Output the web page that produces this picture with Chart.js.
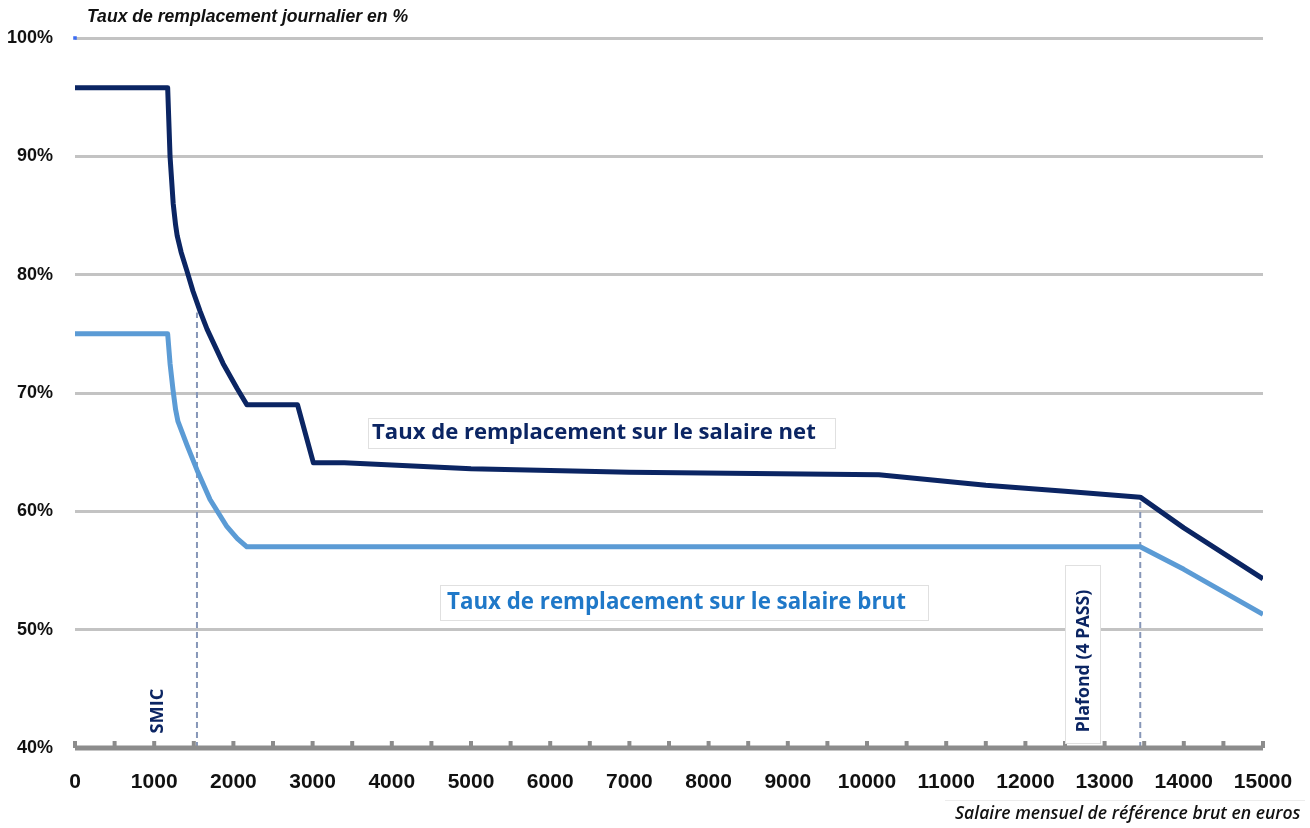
<!DOCTYPE html>
<html>
<head>
<meta charset="utf-8">
<script src="https://cdn.jsdelivr.net/npm/chart.js@4/dist/chart.umd.min.js"></script>
<style>
  html, body { margin: 0; padding: 0; background: #fff; }
  #wrap { width: 1310px; height: 828px; }
</style>
</head>
<body>
<div id="wrap"><canvas id="chart" width="1310" height="828"></canvas></div>
<script>
// Salaire mensuel brut (euros) et taux de remplacement (%)
const netSalaire = [0, 1170, 1200, 1240, 1270, 1290, 1340, 1414, 1490, 1580, 1667, 1869, 2045, 2170, 2810, 3010, 3400, 5000, 7000, 10150, 11500, 12500, 13450, 14000, 15000];
const netTaux    = [95.8, 95.8, 90.0, 86.0, 84.2, 83.3, 81.9, 80.3, 78.6, 76.9, 75.4, 72.5, 70.4, 69.0, 69.0, 64.1, 64.1, 63.6, 63.3, 63.1, 62.2, 61.7, 61.2, 58.6, 54.3];

const brutSalaire = [0, 1170, 1200, 1237, 1270, 1300, 1414, 1540, 1705, 1919, 2050, 2170, 13450, 14000, 15000];
const brutTaux    = [75.0, 75.0, 72.5, 70.3, 68.6, 67.6, 65.6, 63.5, 61.0, 58.7, 57.7, 57.0, 57.0, 55.1, 51.3];

// Repères verticaux
const smic = 1540;
const smicTaux = 76.8;
const plafond = 13450;
const plafondTaux = 61.2;

const yTicks = [40, 50, 60, 70, 80, 90, 100];
const xMin = 0, xMax = 15000, xStep = 500;

const NAVY = '#0b2563';
const BLUE = '#5b9bd5';
const LABEL_BLUE = '#1f78c8';

function pts(xs, ys) {
  return xs.map((x, i) => ({ x: x, y: ys[i] }));
}

// taille de police pour qu'un texte occupe une largeur donnee
function fitFont(ctx, text, style, family, width) {
  ctx.font = style + ' 20px ' + family;
  const size = 20 * width / ctx.measureText(text).width;
  return style + ' ' + size.toFixed(1) + 'px ' + family;
}

// Axe horizontal epais avec petites graduations vers le haut
const axisPlugin = {
  id: 'axisLine',
  afterDatasetsDraw(chart) {
    const { ctx, chartArea, scales } = chart;
    const xs = scales.x;
    const y0 = chartArea.bottom;
    ctx.save();
    ctx.strokeStyle = '#8c8c8c';
    ctx.lineWidth = 4;
    xs.ticks.forEach(t => {
      const px = xs.getPixelForValue(t.value);
      ctx.beginPath();
      ctx.moveTo(px, y0);
      ctx.lineTo(px, y0 - 7);
      ctx.stroke();
    });
    ctx.lineWidth = 5;
    ctx.beginPath();
    ctx.moveTo(chartArea.left, y0);
    ctx.lineTo(chartArea.right, y0);
    ctx.stroke();
    ctx.restore();
  }
};

function drawBox(ctx, x, y, w, h) {
  ctx.save();
  ctx.fillStyle = '#fff';
  ctx.strokeStyle = '#e0e0e0';
  ctx.lineWidth = 1;
  ctx.fillRect(x, y, w, h);
  ctx.strokeRect(x + 0.5, y + 0.5, w, h);
  ctx.restore();
}

function drawText(ctx, text, x, y, font, color, rotate) {
  ctx.save();
  ctx.font = font;
  ctx.translate(x, y);
  if (rotate) ctx.rotate(-Math.PI / 2);
  ctx.fillStyle = color;
  ctx.textBaseline = 'middle';
  ctx.textAlign = rotate ? 'center' : 'left';
  ctx.fillText(text, 0, 0);
  ctx.restore();
}

// Textes : titres d'axes et etiquettes des courbes
const textPlugin = {
  id: 'texts',
  afterDatasetsDraw(chart) {
    const { ctx } = chart;
    const sans = '"Liberation Sans", Arial, sans-serif';
    const open = '"Open Sans", sans-serif';

    let t = 'Taux de remplacement journalier en %';
    drawText(ctx, t, 87, 17, fitFont(ctx, t, 'italic bold', sans, 321), '#111', false);

    t = 'Salaire mensuel de référence brut en euros';
    ctx.save();
    ctx.strokeStyle = '#ececec';
    ctx.lineWidth = 1;
    ctx.beginPath();
    ctx.moveTo(945, 800.5);
    ctx.lineTo(1305, 800.5);
    ctx.stroke();
    ctx.restore();
    drawText(ctx, t, 955, 814, fitFont(ctx, t, 'italic 600', open, 345), '#111', false);

    t = 'Taux de remplacement sur le salaire net';
    drawBox(ctx, 368, 418, 467, 30);
    drawText(ctx, t, 372, 433, fitFont(ctx, t, 'bold', open, 443), NAVY, false);

    t = 'Taux de remplacement sur le salaire brut';
    drawBox(ctx, 440, 585, 488, 35);
    drawText(ctx, t, 447, 603, fitFont(ctx, t, 'bold', open, 458), LABEL_BLUE, false);

    t = 'SMIC';
    drawText(ctx, t, 158, 711, fitFont(ctx, t, 'bold', open, 45), NAVY, true);

    t = 'Plafond (4 PASS)';
    drawBox(ctx, 1065, 565, 35, 178);
    drawText(ctx, t, 1084, 661, fitFont(ctx, t, 'bold', open, 143), NAVY, true);
  }
};

new Chart(document.getElementById('chart'), {
  type: 'line',
  data: {
    datasets: [
      {
        label: 'net',
        data: pts(netSalaire, netTaux),
        borderColor: NAVY,
        borderWidth: 5,
        borderJoinStyle: 'round',
        pointRadius: 0,
        tension: 0,
        order: 1
      },
      {
        label: 'brut',
        data: pts(brutSalaire, brutTaux),
        borderColor: BLUE,
        borderWidth: 5,
        borderJoinStyle: 'round',
        pointRadius: 0,
        tension: 0,
        order: 2
      },
      {
        label: 'smic',
        data: [{ x: smic, y: 40 }, { x: smic, y: smicTaux }],
        borderColor: '#8797b8',
        borderWidth: 2,
        borderDash: [6, 4],
        pointRadius: 0,
        order: 3
      },
      {
        label: 'plafond',
        data: [{ x: plafond, y: 40 }, { x: plafond, y: plafondTaux }],
        borderColor: '#8797b8',
        borderWidth: 2,
        borderDash: [6, 4],
        pointRadius: 0,
        order: 3
      },
      {
        label: 'repere',
        data: [{ x: 0, y: 100 }],
        showLine: false,
        pointStyle: 'rect',
        pointRadius: 2.5,
        pointBackgroundColor: '#3b6cf2',
        pointBorderWidth: 0,
        clip: false
      }
    ]
  },
  options: {
    responsive: false,
    animation: false,
    layout: { padding: { top: 38, right: 47, left: 0, bottom: 0 } },
    plugins: {
      legend: { display: false },
      tooltip: { enabled: false }
    },
    scales: {
      x: {
        type: 'linear',
        min: xMin,
        max: xMax,
        afterFit: s => { s.height = 80; },
        afterBuildTicks: s => {
          s.ticks = [];
          for (let v = xMin; v <= xMax; v += xStep) s.ticks.push({ value: v });
        },
        grid: { display: false },
        border: { display: false },
        ticks: {
          autoSkip: false,
          maxRotation: 0,
          padding: 14,
          color: '#111',
          font: { family: '"Liberation Sans", Arial, sans-serif', size: 21, weight: 'bold' },
          callback: v => (v % 1000 === 0 ? String(v) : '')
        }
      },
      y: {
        min: 40,
        max: 100,
        afterFit: s => { s.width = 75; },
        afterBuildTicks: s => { s.ticks = yTicks.map(v => ({ value: v })); },
        grid: { color: '#c3c3c3', lineWidth: 3, drawTicks: false },
        border: { display: false },
        ticks: {
          padding: 22,
          color: '#111',
          font: { family: '"Liberation Sans", Arial, sans-serif', size: 18, weight: 'bold' },
          callback: v => v + '%'
        }
      }
    }
  },
  plugins: [axisPlugin, textPlugin]
});
</script>
</body>
</html>
